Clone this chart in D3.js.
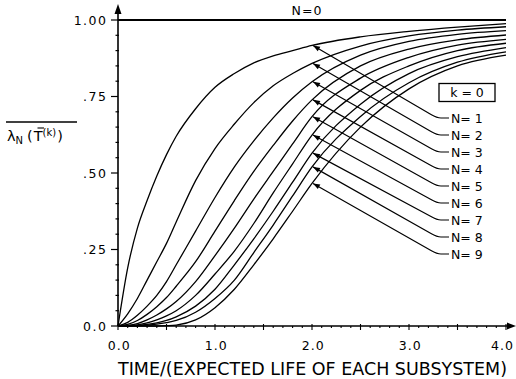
<!DOCTYPE html>
<html><head><meta charset="utf-8">
<script src="https://cdn.jsdelivr.net/npm/d3@7/dist/d3.min.js"></script>
<style>
body{margin:0;background:#fff;}
svg{display:block;}
text{font-family:"DejaVu Sans",sans-serif;fill:#000;}
</style></head>
<body><svg id="c" width="516" height="379"></svg>
<script>
// ---- data ----
const T  = [0, .1, .2, .3, .4, .5, .6, .8, 1.0, 1.2, 1.4, 1.6, 1.8, 2.0, 2.5, 3.0, 3.5, 4.0];
const N0 = [1, 1, 1, 1, 1, 1, 1, 1, 1, 1, 1, 1, 1, 1, 1, 1, 1, 1];
const N1 = [0, .19, .32, .41, .49, .56, .62, .71, .78, .825, .86, .883, .90, .917, .945, .963, .977, .988];
const N2 = [0, .04, .09, .15, .21, .27, .34, .475, .58, .66, .73, .785, .825, .858, .915, .948, .967, .978];
const N3 = [0, .012, .035, .065, .10, .145, .20, .31, .42, .52, .605, .68, .745, .798, .885, .93, .953, .965];
const N4 = [0, .005, .018, .038, .063, .093, .13, .21, .31, .41, .505, .59, .67, .739, .85, .905, .935, .951];
const N5 = [0, .002, .008, .02, .036, .056, .08, .145, .23, .32, .415, .505, .595, .684, .81, .878, .918, .937];
const N6 = [0, .001, .004, .01, .02, .033, .05, .10, .17, .245, .335, .435, .53, .624, .77, .85, .90, .924];
const N7 = [0, 0, .002, .005, .01, .018, .03, .065, .12, .20, .285, .375, .47, .565, .725, .825, .88, .91];
const N8 = [0, 0, .001, .003, .006, .011, .018, .045, .09, .15, .24, .33, .425, .52, .685, .795, .862, .896];
const N9 = [0, 0, 0, 0, 0, .001, .003, .02, .06, .12, .20, .285, .375, .466, .65, .775, .85, .885];
const seriesN = [N1, N2, N3, N4, N5, N6, N7, N8, N9];
const seriesNames = ["N= 1","N= 2","N= 3","N= 4","N= 5","N= 6","N= 7","N= 8","N= 9"];
const yTickVals = [0, .25, .5, .75, 1.0];
const yTickLabels = ["0.0", ".25", ".50", ".75", "1.00"];
const xTickVals = [0, 1, 2, 3, 4];
const xTickLabels = ["0.0", "1.0", "2.0", "3.0", "4.0"];
const markT = 2.0; // time at which the leader arrows touch the curves

// ---- layout ----
const svg = d3.select("#c");
const x = d3.scaleLinear().domain([0, 4]).range([118, 506]);
const y = d3.scaleLinear().domain([0, 1]).range([326, 20]);
const ink = "#000";

// curves
const line = d3.line().x((d, i) => x(T[i])).y(d => y(d)).curve(d3.curveMonotoneX);
svg.append("path").attr("d", line(N0)).attr("fill", "none").attr("stroke", ink).attr("stroke-width", 1.8);
seriesN.forEach(s => {
  svg.append("path").attr("d", line(s)).attr("fill", "none").attr("stroke", ink).attr("stroke-width", 1.3);
});

// axes
const g = svg.append("g");
g.append("line").attr("x1", x(0)).attr("x2", 512).attr("y1", y(0)).attr("y2", y(0)).attr("stroke", ink).attr("stroke-width", 1.6);
g.append("path").attr("d", `M516,${y(0)} L507,${y(0)-3.5} L507,${y(0)+3.5} Z`).attr("fill", ink);
g.append("line").attr("x1", x(0)).attr("x2", x(0)).attr("y1", y(0)).attr("y2", 9).attr("stroke", ink).attr("stroke-width", 1.6);
g.append("path").attr("d", `M${x(0)},4 L${x(0)-3.5},14 L${x(0)+3.5},14 Z`).attr("fill", ink);

// y ticks
d3.range(0, 1.0001, 0.05).forEach(v => {
  const major = yTickVals.some(t => Math.abs(t - v) < 1e-6);
  g.append("line").attr("x1", x(0) - (major ? 7 : 2.5)).attr("x2", x(0) + (major ? 0 : 1))
    .attr("y1", y(v)).attr("y2", y(v)).attr("stroke", ink).attr("stroke-width", 1.2);
});
yTickVals.forEach((v, i) => {
  g.append("text").attr("x", 107.5).attr("y", y(v) + 4.5).attr("text-anchor", "end")
    .attr("font-size", 12.5).attr("letter-spacing", 1.5).text(yTickLabels[i]);
});
// x ticks
d3.range(0, 4.0001, 0.1).forEach(v => {
  const k = Math.round(v * 10);
  const major = k % 5 === 0;
  g.append("line").attr("x1", x(v)).attr("x2", x(v)).attr("y1", y(0) - (major ? 2 : 0)).attr("y2", y(0) + (major ? 4 : 2))
    .attr("stroke", ink).attr("stroke-width", 1.1);
});
xTickVals.forEach((v, i) => {
  const last = i === xTickVals.length - 1;
  g.append("text").attr("x", last ? 514 : x(v) + 1.2).attr("y", 350).attr("text-anchor", last ? "end" : "middle")
    .attr("font-size", 12.5).attr("letter-spacing", 1).text(xTickLabels[i]);
});

// axis titles
svg.append("text").attr("x", 118).attr("y", 374.5).attr("font-size", 17)
  .attr("textLength", 389).attr("lengthAdjust", "spacingAndGlyphs")
  .text("TIME/(EXPECTED LIFE OF EACH SUBSYSTEM)");

const yl = svg.append("text").attr("x", 7).attr("y", 141).attr("font-size", 14.5);
yl.append("tspan").text("λ");
yl.append("tspan").attr("font-size", 10).attr("dy", 3).text("N");
yl.append("tspan").attr("dy", -3).attr("dx", 4).text("(");
yl.append("tspan").attr("dx", 1).text("T");
yl.append("tspan").attr("font-size", 10).attr("dy", -5).text("(k)");
yl.append("tspan").attr("dy", 5).attr("dx", 1).text(")");
svg.append("line").attr("x1", 6).attr("x2", 77).attr("y1", 122).attr("y2", 122).attr("stroke", ink).attr("stroke-width", 1.4);
svg.append("line").attr("x1", 37.5).attr("x2", 44).attr("y1", 128).attr("y2", 128).attr("stroke", ink).attr("stroke-width", 1.1);

// N = 0 label
svg.append("text").attr("x", 307).attr("y", 15).attr("text-anchor", "middle").attr("font-size", 12.5)
  .attr("letter-spacing", 1).text("N=0");

// k = 0 box
svg.append("rect").attr("x", 439).attr("y", 83.5).attr("width", 56).attr("height", 18)
  .attr("fill", "#fff").attr("stroke", ink).attr("stroke-width", 1.3);
svg.append("text").attr("x", 467).attr("y", 97).attr("text-anchor", "middle").attr("font-size", 12.5).text("k = 0");

// N labels with leader arrows
const mi = T.indexOf(markT);
seriesN.forEach((s, i) => {
  const ly = 118 + i * 17;
  const tx = x(markT) + 1, ty = y(s[mi]);
  const ex = 437, ey = ly;
  svg.append("path").attr("d", `M${tx},${ty} L${ex - 6},${ey - 3.5} Q${ex},${ey} ${ex + 4},${ey} L449,${ey}`)
    .attr("fill", "none").attr("stroke", ink).attr("stroke-width", 1.2);
  const ang = Math.atan2(ey - 3.5 - ty, ex - 6 - tx);
  const L = 7, W = 2.6;
  const bx = tx + L * Math.cos(ang), by = ty + L * Math.sin(ang);
  const px = -Math.sin(ang) * W, py = Math.cos(ang) * W;
  svg.append("path").attr("d", `M${tx},${ty} L${bx + px},${by + py} L${bx - px},${by - py} Z`).attr("fill", ink);
  svg.append("text").attr("x", 451).attr("y", ly + 4.5).attr("font-size", 12.5).text(seriesNames[i]);
});
</script></body></html>
